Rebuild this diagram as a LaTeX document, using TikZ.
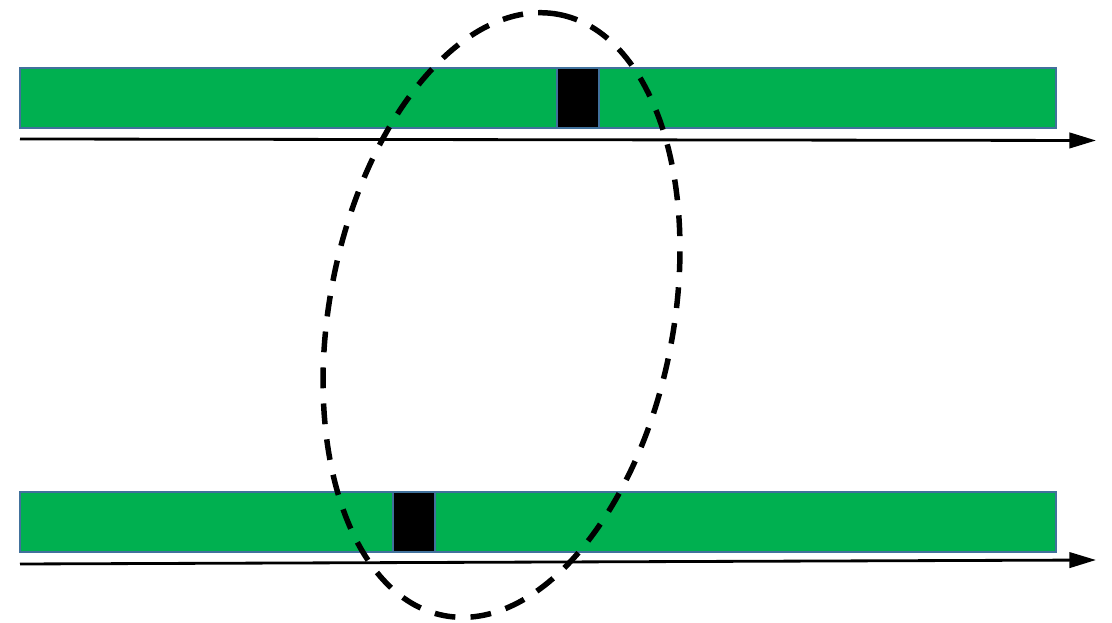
\documentclass[tikz,border=0pt]{standalone}
\usepackage{xcolor}
\usepackage{tikz}
\usetikzlibrary{arrows.meta}
\definecolor{bargreen}{HTML}{00B050}
\definecolor{barline}{HTML}{41719C}
\tikzset{
  bar/.style={fill=bargreen,draw=barline,line width=2.1pt},
  slot/.style={fill=black,draw=barline,line width=2.1pt},
  axis/.style={-{Triangle[length=19pt,width=11pt]},line width=2pt},
  ring/.style={line width=3.9pt,dash pattern=on .52cm off .38cm},
}
\begin{document}
\begin{tikzpicture}[x=.025cm,y=.025cm]
    \useasboundingbox (0,0) rectangle (1112,623);
    \foreach \t/\s in {495/557,71/393}{
      \draw[bar] (20,\t) rectangle (1056,\t+60);
      \draw[slot] (\s,\t) rectangle (\s+42,\t+60);
    }
    \coordinate (a1) at (20,484);
    \coordinate (b1) at (1096,482.5);
    \coordinate (a2) at (20,59);
    \coordinate (b2) at (1096,63);
    \draw[axis] (a1) -- (b1);
    \draw[axis] (a2) -- (b2);
    \coordinate (c) at (501.5,308);
    \draw[ring,rotate around={79.2:(c)}] (c) ellipse [x radius=306,y radius=172];
  \end{tikzpicture}
\end{document}
